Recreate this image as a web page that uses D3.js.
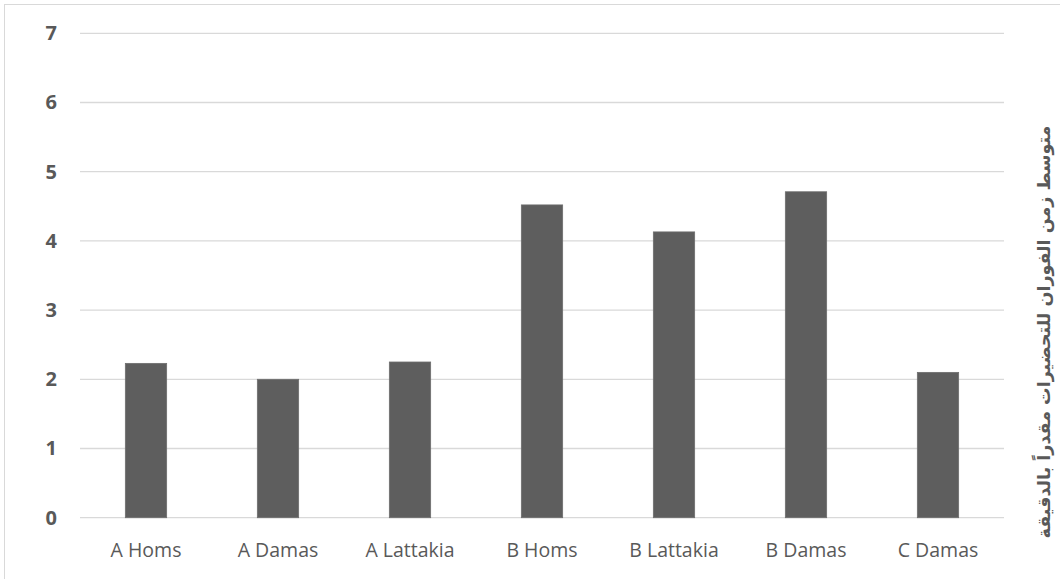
<!DOCTYPE html>
<html>
<head>
<meta charset="utf-8">
<script src="https://cdn.jsdelivr.net/npm/d3@7/dist/d3.min.js"></script>
<style>
  html, body { margin: 0; padding: 0; background: #fff; }
  svg { display: block; }
</style>
</head>
<body>
<svg id="chart" width="1060" height="579"></svg>
<script>
// Mean effervescence time of the preparations, in minutes
const categories = ["A Homs", "A Damas", "A Lattakia", "B Homs", "B Lattakia", "B Damas", "C Damas"];
const values = [2.23, 2.0, 2.25, 4.52, 4.13, 4.71, 2.1];
const yTicks = [0, 1, 2, 3, 4, 5, 6, 7];
const yTitle = "متوسط زمن الفوران للتحضيرات مقدراً بالدقيقة";

const svg = d3.select("#chart");
const W = 1060, H = 579;
const plot = { left: 80, right: 1004, top: 33.3, bottom: 517.7 };
const textColor = "#595959";

// chart frame
svg.append("rect")
  .attr("x", 4.5).attr("y", 4.5)
  .attr("width", W + 20).attr("height", H + 20)
  .attr("fill", "#fff").attr("stroke", "#d9d9d9").attr("stroke-width", 1);

const x = d3.scaleBand().domain(categories).range([plot.left, plot.right]).padding(0);
const y = d3.scaleLinear().domain([0, 7]).range([plot.bottom, plot.top]);

// gridlines
svg.append("g").selectAll("line").data(yTicks).join("line")
  .attr("x1", plot.left).attr("x2", plot.right)
  .attr("y1", d => y(d)).attr("y2", d => y(d))
  .attr("stroke", "#d9d9d9").attr("stroke-width", 1.3);

// y axis labels
const yAxis = d3.axisLeft(y).tickValues(yTicks).tickFormat(d3.format("d")).tickSize(0).tickPadding(0);
const gy = svg.append("g").attr("transform", `translate(57,0)`).call(yAxis);
gy.select(".domain").remove();
gy.selectAll("text")
  .attr("fill", textColor)
  .style("font-family", "'Open Sans', sans-serif")
  .style("font-size", "20px")
  .style("font-weight", "bold");

// bars
const barW = x.bandwidth() * 0.313;
svg.append("g").selectAll("rect").data(values).join("rect")
  .attr("x", (d, i) => x(categories[i]) + (x.bandwidth() - barW) / 2)
  .attr("y", d => y(d))
  .attr("width", barW)
  .attr("height", d => y(0) - y(d))
  .attr("fill", "#5e5e5e")
  .attr("stroke", "#6e6e6e").attr("stroke-width", 0.8);

// category labels
const xAxis = d3.axisBottom(x).tickSize(0).tickPadding(0);
const gx = svg.append("g").attr("transform", `translate(0,${plot.bottom + 25})`).call(xAxis);
gx.select(".domain").remove();
gx.selectAll("text")
  .attr("fill", textColor)
  .attr("dy", "0.71em")
  .style("font-family", "'Open Sans', sans-serif")
  .style("font-size", "19.5px");

// axis title on the right
svg.append("text")
  .attr("transform", `translate(1044,332) rotate(-90)`)
  .attr("text-anchor", "middle")
  .attr("dominant-baseline", "central")
  .attr("direction", "rtl")
  .attr("fill", textColor)
  .style("font-family", "'DejaVu Sans', sans-serif")
  .style("font-size", "17.5px")
  .style("font-weight", "bold")
  .text(yTitle);
</script>
</body>
</html>
